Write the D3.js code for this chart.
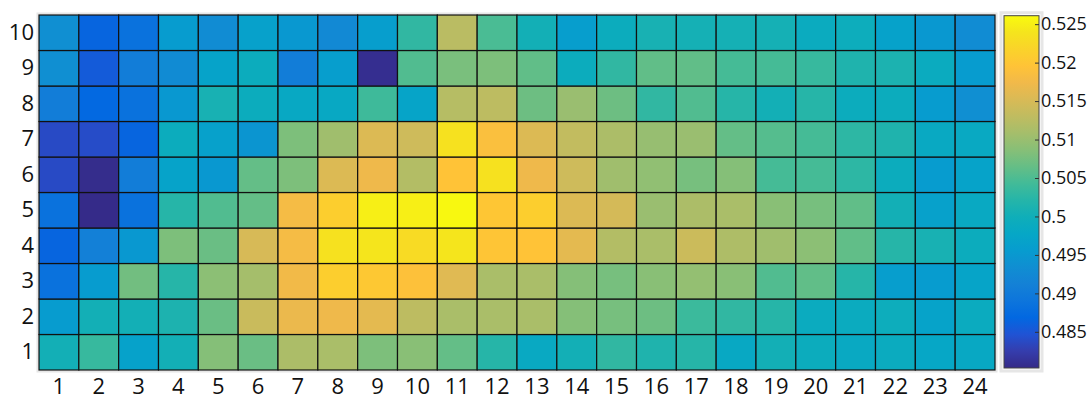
<!DOCTYPE html>
<html>
<head>
<meta charset="utf-8">
<script src="https://cdn.jsdelivr.net/npm/d3@7"></script>
<style>
  body { margin: 0; background: white; }
  svg text { font-family: "Open Sans", sans-serif; fill: #111; }
</style>
</head>
<body>
<div id="chart"></div>
<script>
// column and row labels
const cols = d3.range(1, 25)
const rows = d3.range(1, 11)

// values, one array per row (row 1 = bottom), columns 1..24
const row1  = [0.5003,0.5035,0.4968,0.5003,0.5085,0.5068,0.5114,0.5112,0.5080,0.5088,0.5064,0.5022,0.4985,0.5003,0.5030,0.5015,0.5022,0.4982,0.5003,0.4993,0.4985,0.4990,0.4978,0.4982]
const row2  = [0.4955,0.5003,0.5003,0.5013,0.5068,0.5138,0.5168,0.5172,0.5162,0.5128,0.5112,0.5112,0.5112,0.5085,0.5076,0.5070,0.5038,0.5030,0.5022,0.4990,0.4990,0.4995,0.4970,0.4990]
const row3  = [0.4885,0.4955,0.5073,0.5022,0.5090,0.5108,0.5176,0.5210,0.5203,0.5192,0.5158,0.5112,0.5112,0.5085,0.5076,0.5088,0.5096,0.5088,0.5052,0.5062,0.5022,0.4960,0.4955,0.4972]
const row4  = [0.4865,0.4910,0.4950,0.5080,0.5068,0.5150,0.5180,0.5235,0.5240,0.5228,0.5240,0.5198,0.5195,0.5162,0.5120,0.5112,0.5140,0.5116,0.5105,0.5090,0.5062,0.5022,0.5008,0.4992]
const row5  = [0.4885,0.4804,0.4885,0.5022,0.5052,0.5064,0.5180,0.5210,0.5250,0.5250,0.5258,0.5200,0.5210,0.5155,0.5148,0.5100,0.5114,0.5112,0.5088,0.5076,0.5062,0.5003,0.4965,0.4985]
const row6  = [0.4838,0.4806,0.4905,0.4970,0.4950,0.5064,0.5080,0.5155,0.5172,0.5120,0.5195,0.5235,0.5172,0.5142,0.5105,0.5094,0.5076,0.5085,0.5045,0.5045,0.5027,0.4993,0.4955,0.4970]
const row7  = [0.4838,0.4840,0.4865,0.4992,0.4965,0.4945,0.5080,0.5105,0.5155,0.5142,0.5235,0.5188,0.5155,0.5132,0.5114,0.5098,0.5100,0.5064,0.5055,0.5045,0.5027,0.5015,0.4985,0.4985]
const row8  = [0.4905,0.4870,0.4885,0.4950,0.5008,0.4992,0.4982,0.4982,0.5040,0.4972,0.5122,0.5128,0.5070,0.5100,0.5070,0.5030,0.5052,0.5022,0.5003,0.5022,0.4993,0.4993,0.4955,0.4935]
const row9  = [0.4935,0.4855,0.4905,0.4928,0.4970,0.4993,0.4905,0.4960,0.4808,0.5052,0.5078,0.5080,0.5062,0.4993,0.5030,0.5062,0.5062,0.5045,0.5045,0.5035,0.5015,0.5012,0.4990,0.4955]
const row10 = [0.4935,0.4865,0.4885,0.4955,0.4930,0.4965,0.4950,0.4925,0.4960,0.5030,0.5125,0.5048,0.5003,0.4960,0.4993,0.5008,0.5005,0.5005,0.5005,0.4990,0.4995,0.4968,0.4950,0.4930]

// colorbar limits and ticks
const colorLimits = [0.4803, 0.5261]
const barTicks = [0.485, 0.49, 0.495, 0.5, 0.505, 0.51, 0.515, 0.52, 0.525]

// parula colormap (every 3rd entry of the 64-step map)
const parula = [
  [0.2081,0.1663,0.5292],[0.2081,0.2386,0.6771],[0.1253,0.3242,0.8303],[0.0060,0.4086,0.8828],
  [0.0498,0.4586,0.8641],[0.0779,0.5040,0.8384],[0.0641,0.5570,0.8240],[0.0265,0.6137,0.8135],
  [0.0228,0.6535,0.7768],[0.0590,0.6838,0.7254],[0.1453,0.7098,0.6646],[0.2586,0.7317,0.5954],
  [0.3953,0.7459,0.5244],[0.5300,0.7491,0.4661],[0.6473,0.7456,0.4188],[0.7525,0.7384,0.3768],
  [0.8507,0.7299,0.3360],[0.9450,0.7261,0.2886],[0.9990,0.7653,0.2164],[0.9789,0.8271,0.1633],
  [0.9589,0.8949,0.1132],[0.9763,0.9831,0.0538]
].map(([r, g, b]) => d3.rgb(r * 255, g * 255, b * 255).formatHex())

const grid = [row1, row2, row3, row4, row5, row6, row7, row8, row9, row10]
const cells = grid.flatMap((vals, r) => vals.map((v, c) => ({ row: rows[r], col: cols[c], value: v })))

function generateChart() {
  const width = 1091
  const height = 401
  const margin = { top: 15, right: 96, bottom: 31, left: 39 }

  const x = d3.scaleBand(cols, [margin.left, width - margin.right])
  const y = d3.scaleBand(rows.slice().reverse(), [margin.top, height - margin.bottom])

  const t = d3.scaleLinear(colorLimits, [0, 1])
  const cmap = d3.scaleLinear(d3.range(parula.length).map(i => i / (parula.length - 1)), parula)
    .interpolate(d3.interpolateRgb)
  const color = v => cmap(Math.max(0, Math.min(1, t(v))))

  const svg = d3.create("svg")
    .attr("width", width)
    .attr("height", height)
    .attr("viewBox", [0, 0, width, height])
    .style("background", "white")

  // light frame round the plot
  svg.append("rect")
    .attr("x", margin.left - 1.5)
    .attr("y", margin.top - 1.5)
    .attr("width", width - margin.right - margin.left + 3)
    .attr("height", height - margin.bottom - margin.top + 3)
    .attr("fill", "none")
    .attr("stroke", "#e6e6e6")
    .attr("stroke-width", 2)

  svg.append("g")
    .selectAll("rect")
    .data(cells)
    .join("rect")
    .attr("x", d => x(d.col))
    .attr("y", d => y(d.row))
    .attr("width", x.bandwidth())
    .attr("height", y.bandwidth())
    .attr("fill", d => color(d.value))
    .attr("stroke", "#111")
    .attr("stroke-width", 1.2)

  // axes, labels only
  svg.append("g")
    .attr("transform", `translate(0,${height - margin.bottom})`)
    .call(d3.axisBottom(x).tickSize(0).tickPadding(8))
    .call(g => g.select(".domain").remove())
    .call(g => g.selectAll("text").attr("font-size", 22).attr("font-family", "Open Sans").attr("fill", "#111"))

  svg.append("g")
    .attr("transform", `translate(${margin.left},0)`)
    .call(d3.axisLeft(y).tickSize(0).tickPadding(5))
    .call(g => g.select(".domain").remove())
    .call(g => g.selectAll("text").attr("font-size", 22).attr("font-family", "Open Sans").attr("fill", "#111"))

  // colorbar
  const bar = { x: 1004, w: 35, top: 15.7, bottom: 368 }
  const cy = d3.scaleLinear(colorLimits, [bar.bottom, bar.top])

  const grad = svg.append("defs").append("linearGradient")
    .attr("id", "parula")
    .attr("x1", 0).attr("y1", 1).attr("x2", 0).attr("y2", 0)
  grad.selectAll("stop")
    .data(parula)
    .join("stop")
    .attr("offset", (d, i) => i / (parula.length - 1))
    .attr("stop-color", d => d)

  svg.append("rect")
    .attr("x", bar.x - 3)
    .attr("y", bar.top - 3)
    .attr("width", bar.w + 6)
    .attr("height", bar.bottom - bar.top + 6)
    .attr("fill", "none")
    .attr("stroke", "#e6e6e6")
    .attr("stroke-width", 3)

  svg.append("rect")
    .attr("x", bar.x)
    .attr("y", bar.top)
    .attr("width", bar.w)
    .attr("height", bar.bottom - bar.top)
    .attr("fill", "url(#parula)")
    .attr("stroke", "#444")
    .attr("stroke-width", 1)

  svg.append("g")
    .attr("transform", `translate(${bar.x + bar.w},0)`)
    .call(d3.axisRight(cy).tickValues(barTicks).tickFormat(d => String(d)).tickSizeInner(-4).tickSizeOuter(0).tickPadding(2))
    .call(g => g.select(".domain").remove())
    .call(g => g.selectAll(".tick line").attr("stroke", "#333"))
    .call(g => g.selectAll("text").attr("font-size", 18).attr("font-family", "Open Sans").attr("fill", "#111"))

  return svg.node()
}

d3.select("#chart").append(generateChart)
</script>
</body>
</html>
